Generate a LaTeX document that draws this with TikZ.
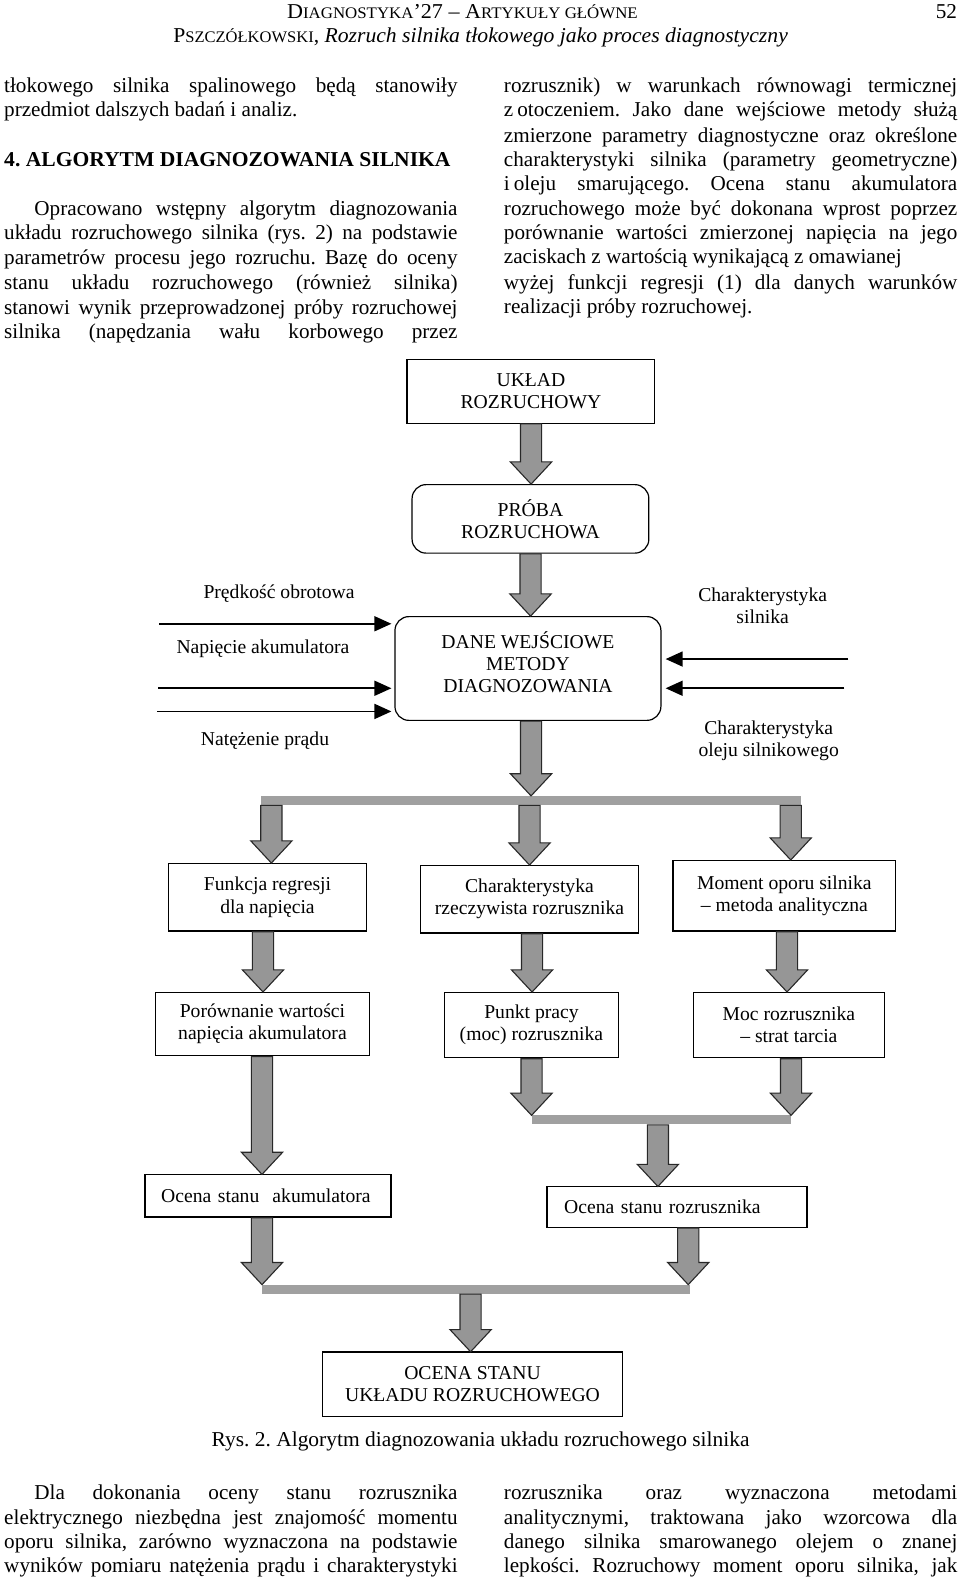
\documentclass[tikz,border=0pt]{standalone}
\usepackage{fontspec}
\setmainfont{Liberation Serif}
\usepackage{graphicx}
\usetikzlibrary{calc,arrows.meta}
\frenchspacing
\definecolor{arrfill}{RGB}{150,150,150}
\definecolor{barcol}{RGB}{160,160,160}
\definecolor{arredge}{RGB}{40,40,40}
\newsavebox\mybox
\newcommand\fitw[2]{\sbox\mybox{#2}\scalebox{\fpeval{#1/\the\wd\mybox}}[1]{\usebox\mybox}}
\newcommand\jline[2]{\sbox\mybox{#2}\ifdim\wd\mybox>#1\relax\scalebox{\fpeval{#1/\the\wd\mybox}}[1]{\usebox\mybox}\else\makebox[#1][s]{#2}\fi}
\newcommand\bodyfont{\fontsize{21}{24.4}\selectfont}
\newcommand\dfont{\fontsize{19.5}{22}\selectfont}
\newcommand\smc[1]{{\fontsize{16}{16}\selectfont #1}}
\newcommand\fatarrow[2]{%
 \path[fatarr] let \p1=#1, \p2=#2 in
 ({\x1-10.5pt},{\y1}) -- ({\x1-10.5pt},{\y2+22pt}) -- ({\x1-20.5pt},{\y2+22pt}) -- ({\x1},{\y2}) -- ({\x1+20.5pt},{\y2+22pt}) -- ({\x1+10.5pt},{\y2+22pt}) -- ({\x1+10.5pt},{\y1}) -- cycle;}
\begin{document}
\begin{tikzpicture}[x=1pt,y=-1pt,
 box/.style={draw=black,line width=1.2pt,inner sep=0pt,align=center,font=\dfont},
 rbox/.style={box,rounded corners=14pt},
 bar/.style={fill=barcol,draw=none,inner sep=0pt},
 fatarr/.style={fill=arrfill,draw=arredge,line width=1.1pt,line join=miter},
 thinarr/.style={line width=1.6pt,-{Triangle[length=17pt,width=15pt]}},
 lbl/.style={font=\dfont,align=center,inner sep=0pt},
 txt/.style={anchor=base west,inner sep=0pt,font=\bodyfont},
 ctxt/.style={anchor=base,inner sep=0pt,font=\bodyfont}]
\useasboundingbox (0,0) rectangle (960,1579);
\fill[white] (0,0) rectangle (960,1579);
\begin{scope}[scale=1.0075,transform shape]
% header
\node[ctxt] (hd1) at (459,18) {\fitw{348pt}{D\smc{IAGNOSTYKA}’27 – A\smc{RTYKUŁY GŁÓWNE}}};
\node[anchor=base east,inner sep=0pt,font=\bodyfont] (pg) at (950,18) {52};
\node[ctxt] (hd2) at (477,42) {\fitw{610pt}{P\smc{SZCZÓŁKOWSKI}, \textit{Rozruch silnika tłokowego jako proces diagnostyczny}}};
% left column top
\node[txt] (tl1) at (4,92) {\jline{450pt}{tłokowego silnika spalinowego będą stanowiły}};
\node[txt] (tl2) at (4,116) {przedmiot dalszych badań i analiz.};
\node[txt] (sec) at (4,165) {\fitw{443pt}{\bfseries 4. ALGORYTM DIAGNOZOWANIA SILNIKA}};
\node[txt] (tl3) at (34,214) {\jline{420pt}{Opracowano wstępny algorytm diagnozowania}};
\node[txt] (tl4) at (4,238) {\jline{450pt}{układu rozruchowego silnika (rys. 2) na podstawie}};
\node[txt] (tl5) at (4,263) {\jline{450pt}{parametrów procesu jego rozruchu. Bazę do oceny}};
\node[txt] (tl6) at (4,287) {\jline{450pt}{stanu układu rozruchowego (również silnika)}};
\node[txt] (tl7) at (4,312) {\jline{450pt}{stanowi wynik przeprowadzonej próby rozruchowej}};
\node[txt] (tl8) at (4,336) {\jline{450pt}{silnika (napędzania wału korbowego przez}};
% right column top
\node[txt] (tr1) at (500,92) {\jline{450pt}{rozrusznik) w warunkach równowagi termicznej}};
\node[txt] (tr2) at (500,116) {\jline{450pt}{z\hspace{4pt}otoczeniem. Jako dane wejściowe metody służą}};
\node[txt] (tr3) at (500,141) {\jline{450pt}{zmierzone parametry diagnostyczne oraz określone}};
\node[txt] (tr4) at (500,165) {\jline{450pt}{charakterystyki silnika (parametry geometryczne)}};
\node[txt] (tr5) at (500,189) {\jline{450pt}{i\hspace{4pt}oleju smarującego. Ocena stanu akumulatora}};
\node[txt] (tr6) at (500,214) {\jline{450pt}{rozruchowego może być dokonana wprost poprzez}};
\node[txt] (tr7) at (500,238) {\jline{450pt}{porównanie wartości zmierzonej napięcia na jego}};
\node[txt] (tr8) at (500,262) {zaciskach z wartością wynikającą z omawianej};
\node[txt] (tr9) at (500,287) {\jline{450pt}{wyżej funkcji regresji (1) dla danych warunków}};
\node[txt] (tr10) at (500,311) {realizacji próby rozruchowej.};
% boxes
\node[box,minimum width=246pt,minimum height=63pt] (b1) at (527,388.5) {UKŁAD\\ROZRUCHOWY};
\node[rbox,minimum width=235pt,minimum height=68pt] (b2) at (526.5,515) {PRÓBA\\ROZRUCHOWA};
\node[rbox,minimum width=264pt,minimum height=103pt] (b3) at (524,663.5) {};
\node[lbl] (b3t) at (524,657) {DANE WEJŚCIOWE\\METODY\\DIAGNOZOWANIA};
\node[box,minimum width=197pt,minimum height=67pt] (f1) at (265.5,890.5) {Funkcja regresji\\dla napięcia};
\node[box,minimum width=217pt,minimum height=67pt] (f2) at (525.5,892.5) {Charakterystyka\\rzeczywista rozrusznika};
\node[box,minimum width=221pt,minimum height=70pt] (f3) at (778.5,889) {Moment oporu silnika\\ – metoda analityczna};
\node[box,minimum width=213pt,minimum height=63pt] (g1) at (260.5,1016.5) {Porównanie wartości\\napięcia akumulatora};
\node[box,minimum width=173pt,minimum height=65pt] (g2) at (527.5,1017.5) {Punkt pracy\\(moc) rozrusznika};
\node[box,minimum width=190pt,minimum height=65pt] (g3) at (783,1017.5) {Moc rozrusznika\\ – strat tarcia};
\node[box,minimum width=244pt,minimum height=42pt,align=left,text width=212pt,inner xsep=16pt] (h1) at (266,1187) {Ocena stanu\ \ akumulatora};
\node[box,minimum width=258pt,minimum height=40pt,align=left,text width=224pt,inner xsep=17pt] (h2) at (672,1198) {Ocena stanu rozrusznika};
\node[box,minimum width=298pt,minimum height=64pt] (fin) at (469,1374) {OCENA STANU\\UKŁADU ROZRUCHOWEGO};
% bars
\node[bar,minimum width=536pt,minimum height=9pt] (bar1) at (527,794.5) {};
\node[bar,minimum width=257pt,minimum height=9pt] (bar2) at (656.5,1111.5) {};
\node[bar,minimum width=425pt,minimum height=9pt] (bar3) at (472.5,1279.5) {};
% fat arrows
\fatarrow{(b1.south)}{(b2.north)}
\fatarrow{(b2.south)}{(b3.north)}
\fatarrow{([xshift=3pt]b3.south)}{(bar1.north)}
\fatarrow{([xshift=10.5pt]bar1.south west)}{(f1.north)}
\fatarrow{(bar1.south -| f2.north)}{(f2.north)}
\fatarrow{([xshift=-10.5pt]bar1.south east)}{(f3.north)}
\fatarrow{([xshift=-4.5pt]f1.south)}{(g1.north)}
\fatarrow{([xshift=2.5pt]f2.south)}{(g2.north)}
\fatarrow{([xshift=2.5pt]f3.south)}{(g3.north)}
\fatarrow{([xshift=-0.5pt]g1.south)}{(h1.north)}
\fatarrow{(g2.south)}{(bar2.north)}
\fatarrow{([xshift=2pt]g3.south)}{(bar2.north)}
\fatarrow{(bar2.south -| 653,0)}{(h2.north)}
\fatarrow{([xshift=-6pt]h1.south)}{(bar3.north)}
\fatarrow{([xshift=11pt]h2.south)}{(bar3.north)}
\fatarrow{([xshift=-5.5pt]bar3.south)}{(fin.north)}
% thin inputs
\coordinate (l1) at (158,619);
\coordinate (l2) at (157,683);
\coordinate (l3) at (156,706);
\coordinate (r1) at (842,654);
\coordinate (r2) at (838,683);
\draw[thinarr,shorten >=3pt] (l1) -- (l1 -| b3.west);
\draw[thinarr,shorten >=3pt] (l2) -- (l2 -| b3.west);
\draw[thinarr,shorten >=3pt] (l3) -- (l3 -| b3.west);
\draw[thinarr,shorten >=4pt] (r1) -- (r1 -| b3.east);
\draw[thinarr,shorten >=4pt] (r2) -- (r2 -| b3.east);
\node[lbl] (lp) at (277,589) {Prędkość obrotowa};
\node[lbl] (ln) at (261,644) {Napięcie akumulatora};
\node[lbl] (lc) at (263,735) {Natężenie prądu};
\node[lbl] (rs) at (757,601) {Charakterystyka\\silnika};
\node[lbl] (ro) at (763,735.5) {Charakterystyka\\oleju silnikowego};
% caption
\node[ctxt] (cap) at (477,1436) {\fitw{534pt}{Rys. 2. Algorytm diagnozowania układu rozruchowego silnika}};
% bottom text
\node[txt] (bl1) at (34,1488) {\jline{420pt}{Dla dokonania oceny stanu rozrusznika}};
\node[txt] (bl2) at (4,1513) {\jline{450pt}{elektrycznego niezbędna jest znajomość momentu}};
\node[txt] (bl3) at (4,1537) {\jline{450pt}{oporu silnika, zarówno wyznaczona na podstawie}};
\node[txt] (bl4) at (4,1561) {\jline{450pt}{wyników pomiaru natężenia prądu i charakterystyki}};
\node[txt] (br1) at (500,1488) {\jline{450pt}{rozrusznika oraz wyznaczona metodami}};
\node[txt] (br2) at (500,1513) {\jline{450pt}{analitycznymi, traktowana jako wzorcowa dla}};
\node[txt] (br3) at (500,1537) {\jline{450pt}{danego silnika smarowanego olejem o znanej}};
\node[txt] (br4) at (500,1561) {\jline{450pt}{lepkości. Rozruchowy moment oporu silnika, jak}};
\end{scope}
\end{tikzpicture}
\end{document}
